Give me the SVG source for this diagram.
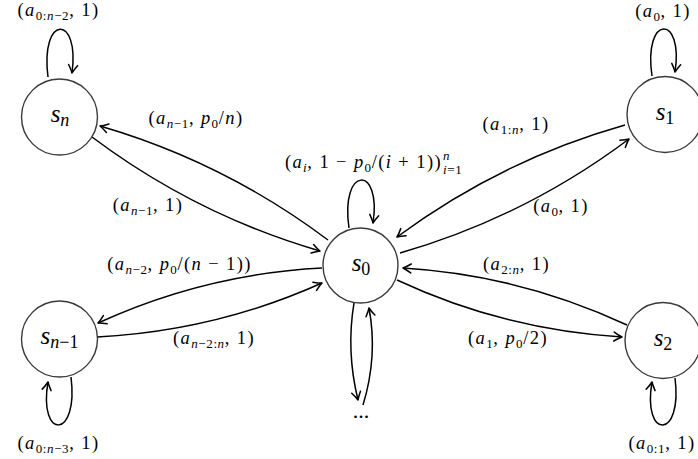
<svg xmlns="http://www.w3.org/2000/svg" width="698" height="459" viewBox="0 0 698 459" font-family="'Liberation Serif', 'DejaVu Serif', serif">
<style>
.node circle{fill:#fff;stroke:#3a3a3a;stroke-width:1.4}
.edge{fill:none;stroke:#000;stroke-width:1.5;marker-end:url(#arr)}
.nl{font-size:25px}
.ns{font-size:18px}
.el{font-size:18.5px;letter-spacing:1.4px}
.es{font-size:13px;letter-spacing:0.6px}
.i{font-style:italic}
</style>
<defs>
<marker id="arr" markerUnits="userSpaceOnUse" viewBox="-10 -6 12 12" markerWidth="12" markerHeight="12" refX="0" refY="0" orient="auto" overflow="visible">
<path d="M-8,-4.5 Q-3,-1.2 0,0 Q-3,1.2 -8,4.5" fill="none" stroke="#000" stroke-width="1.5" stroke-linecap="round" stroke-linejoin="round"/>
</marker>
</defs>
<rect width="698" height="459" fill="#fff"/>
<g id="connectors">
<path class="edge" d="M328,240 Q224,162 100,126"/>
<path class="edge" d="M92,137 Q196,215 320,251"/>
<path class="edge" d="M625,125 Q501,160 397,237"/>
<path class="edge" d="M400,253 Q525,217 629,139"/>
<path class="edge" d="M322,268 Q205,274 98,323"/>
<path class="edge" d="M97,337 Q215,331 322,283"/>
<path class="edge" d="M627,325 Q520,275 403,268"/>
<path class="edge" d="M397,280 Q504,330 622,337"/>
<path class="edge" d="M354,303 Q346,351 358,400"/>
<path class="edge" d="M363,405 Q378,356 369,308"/>
<path class="edge" d="M48,77 C40,14 80,14 72,73"/>
<path class="edge" d="M652,76 C643,14 684,14 675,72"/>
<path class="edge" d="M349,228 C340,165 382,165 373,223"/>
<path class="edge" d="M71,377 C79,440 38,440 48,382"/>
<path class="edge" d="M675,378 C683,440 642,440 652,382"/>
</g>
<g id="labels" class="el" font-family="Liberation Serif, serif">
<text x="58.5" y="16" text-anchor="middle">(<tspan class="i">a</tspan><tspan class="es" dy="4">0:<tspan class="i">n</tspan>−2</tspan><tspan dy="-4">, 1)</tspan></text>
<text x="663" y="17" text-anchor="middle">(<tspan class="i">a</tspan><tspan class="es" dy="4">0</tspan><tspan dy="-4">, 1)</tspan></text>
<text x="196" y="124" text-anchor="middle">(<tspan class="i">a</tspan><tspan class="es" dy="4"><tspan class="i">n</tspan>−1</tspan><tspan dy="-4">, </tspan><tspan class="i">p</tspan><tspan class="es" dy="4">0</tspan><tspan dy="-4">/</tspan><tspan class="i">n</tspan>)</text>
<text x="148" y="211" text-anchor="middle">(<tspan class="i">a</tspan><tspan class="es" dy="4"><tspan class="i">n</tspan>−1</tspan><tspan dy="-4">, 1)</tspan></text>
<text x="442" y="168" text-anchor="end">(<tspan class="i">a</tspan><tspan class="es i" dy="4">i</tspan><tspan dy="-4">, 1 − </tspan><tspan class="i">p</tspan><tspan class="es" dy="4">0</tspan><tspan dy="-4">/(</tspan><tspan class="i">i</tspan> + 1))</text>
<text x="443" y="160" class="es i">n</text>
<text x="443" y="174" class="es"><tspan class="i">i</tspan>=1</text>
<text x="516" y="130" text-anchor="middle">(<tspan class="i">a</tspan><tspan class="es" dy="4">1:<tspan class="i">n</tspan></tspan><tspan dy="-4">, 1)</tspan></text>
<text x="561" y="212" text-anchor="middle">(<tspan class="i">a</tspan><tspan class="es" dy="4">0</tspan><tspan dy="-4">, 1)</tspan></text>
<text x="179.5" y="270" text-anchor="middle">(<tspan class="i">a</tspan><tspan class="es" dy="4"><tspan class="i">n</tspan>−2</tspan><tspan dy="-4">, </tspan><tspan class="i">p</tspan><tspan class="es" dy="4">0</tspan><tspan dy="-4">/(</tspan><tspan class="i">n</tspan> − 1))</text>
<text x="214" y="344" text-anchor="middle">(<tspan class="i">a</tspan><tspan class="es" dy="4"><tspan class="i">n</tspan>−2:<tspan class="i">n</tspan></tspan><tspan dy="-4">, 1)</tspan></text>
<text x="516.5" y="270" text-anchor="middle">(<tspan class="i">a</tspan><tspan class="es" dy="4">2:<tspan class="i">n</tspan></tspan><tspan dy="-4">, 1)</tspan></text>
<text x="508" y="344" text-anchor="middle">(<tspan class="i">a</tspan><tspan class="es" dy="4">1</tspan><tspan dy="-4">, </tspan><tspan class="i">p</tspan><tspan class="es" dy="4">0</tspan><tspan dy="-4">/2)</tspan></text>
<text x="58.5" y="449" text-anchor="middle">(<tspan class="i">a</tspan><tspan class="es" dy="4">0:<tspan class="i">n</tspan>−3</tspan><tspan dy="-4">, 1)</tspan></text>
<text x="662" y="449" text-anchor="middle">(<tspan class="i">a</tspan><tspan class="es" dy="4">0:1</tspan><tspan dy="-4">, 1)</tspan></text>
<text x="361" y="418" text-anchor="middle" font-size="22" letter-spacing="0">...</text>
</g>
<g id="node-s0" class="node" font-family="Liberation Serif, serif"><circle cx="360.5" cy="265.5" r="37.5"/><text class="nl" x="361" y="271" text-anchor="middle"><tspan class="i">s</tspan><tspan class="ns" dy="4">0</tspan></text></g>
<g id="node-sn" class="node" font-family="Liberation Serif, serif"><circle cx="59.5" cy="117" r="38"/><text class="nl" x="60" y="122" text-anchor="middle"><tspan class="i">s</tspan><tspan class="ns i" dy="4">n</tspan></text></g>
<g id="node-s1" class="node" font-family="Liberation Serif, serif"><circle cx="665" cy="114.5" r="38"/><text class="nl" x="665" y="120" text-anchor="middle"><tspan class="i">s</tspan><tspan class="ns" dy="4">1</tspan></text></g>
<g id="node-sn-1" class="node" font-family="Liberation Serif, serif"><circle cx="59.5" cy="339" r="38"/><text class="nl" x="59.5" y="344" text-anchor="middle"><tspan class="i">s</tspan><tspan class="ns" dy="4"><tspan class="i">n</tspan>−1</tspan></text></g>
<g id="node-s2" class="node" font-family="Liberation Serif, serif"><circle cx="663" cy="340.5" r="38"/><text class="nl" x="663" y="346" text-anchor="middle"><tspan class="i">s</tspan><tspan class="ns" dy="4">2</tspan></text></g>
</svg>
